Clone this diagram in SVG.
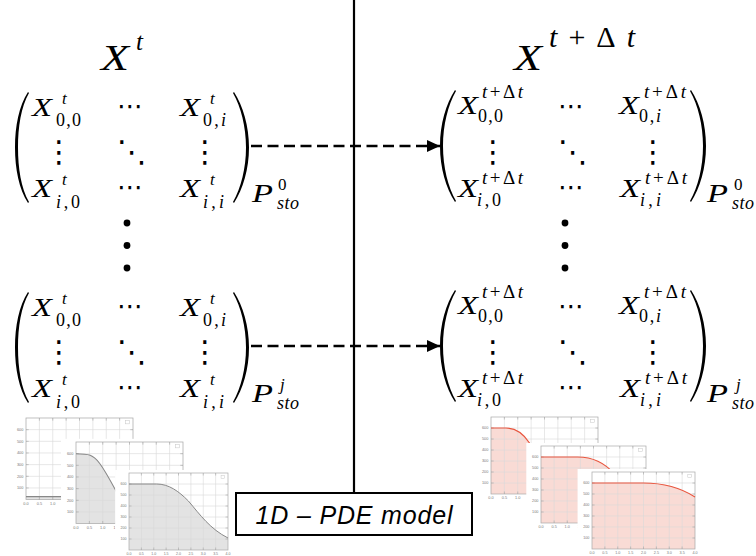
<svg xmlns="http://www.w3.org/2000/svg" xmlns:xlink="http://www.w3.org/1999/xlink" width="756" height="556" viewBox="0 0 756 556">
<style>
.m{font-family:"Liberation Serif","DejaVu Serif",serif;font-style:italic;fill:#000}
.up{font-style:normal}
.b{font-size:25px}
.s{font-size:17px}
.ss{font-size:18px}
.sd{font-size:19px}
.hd{font-family:"DejaVu Sans",sans-serif;font-size:26px;fill:#000}
.vd{font-family:"DejaVu Sans",sans-serif;font-size:30px;fill:#000}
.par{fill:#000}
.grid{stroke:#d9d9d9;stroke-width:0.6;fill:none}
.frame{stroke:#aaa;stroke-width:0.7;fill:none}
.tick{stroke:#999;stroke-width:0.5}
.tl{font-family:"Liberation Sans",sans-serif;font-size:3.6px;fill:#777}
.gfill{fill:#e3e3e3}
.gline{fill:none;stroke:#888;stroke-width:1}
.rfill{fill:#f9dbd5}
.rline{fill:none;stroke:#e8553e;stroke-width:1.1}
.dash{stroke:#000;stroke-width:2.4;stroke-dasharray:11 5.5;fill:none}
</style>
<defs>
<marker id="ah" markerUnits="userSpaceOnUse" markerWidth="14" markerHeight="13" refX="13" refY="6" orient="auto">
<path d="M0,0 L13,6 L0,12 Z" fill="#000"/>
</marker>
<g id="pbg"><rect x="-14" y="-3" width="118" height="88" fill="#fff"/></g>
<g id="pgrid">
<path class="grid" d="M12.5,0V77M25,0V77M37.5,0V77M50,0V77M62.5,0V77M75,0V77M87.5,0V77M0,11H100M0,22H100M0,33H100M0,44H100M0,55H100M0,66H100"/>
<rect class="frame" x="0" y="0" width="100" height="77"/>
<path class="tick" d="M12.5,0v2.5M25,0v2.5M37.5,0v2.5M50,0v2.5M62.5,0v2.5M75,0v2.5M87.5,0v2.5M12.5,77v-2.5M25,77v-2.5M37.5,77v-2.5M50,77v-2.5M62.5,77v-2.5M75,77v-2.5M87.5,77v-2.5M0,11h2.5M0,22h2.5M0,33h2.5M0,44h2.5M0,55h2.5M0,66h2.5M100,11h-2.5M100,22h-2.5M100,33h-2.5M100,44h-2.5M100,55h-2.5M100,66h-2.5"/>
<rect x="93" y="2.5" width="3.5" height="3" fill="#fff" stroke="#c8c8c8" stroke-width="0.5"/>
<g class="tl" text-anchor="end">
<text x="-2.5" y="12.3">600</text><text x="-2.5" y="23.3">500</text><text x="-2.5" y="34.3">400</text><text x="-2.5" y="45.3">300</text><text x="-2.5" y="56.3">200</text><text x="-2.5" y="67.3">100</text>
</g>
<g class="tl" text-anchor="middle">
<text x="0" y="82">0.0</text><text x="12.5" y="82">0.5</text><text x="25" y="82">1.0</text><text x="37.5" y="82">1.5</text><text x="50" y="82">2.0</text><text x="62.5" y="82">2.5</text><text x="75" y="82">3.0</text><text x="87.5" y="82">3.5</text><text x="100" y="82">4.0</text>
</g>
</g>
</defs>

<rect width="756" height="556" fill="#fff"/>

<g id="divider"><line x1="354" y1="0" x2="354" y2="493" stroke="#000" stroke-width="2.2"/></g>

<g id="title-t">
<text class="m" x="101" y="70" font-size="36" textLength="28" lengthAdjust="spacingAndGlyphs">X</text>
<text class="m" x="136" y="50" font-size="25">t</text>
</g>
<g id="title-tdt">
<text class="m" x="514" y="70" font-size="36" textLength="28" lengthAdjust="spacingAndGlyphs">X</text>
<text class="m" x="549" y="47" font-size="30" textLength="86">t<tspan class="up">+Δ</tspan>t</text>
</g>

<g id="matrix-t-0">
<path class="par" d="M28,92 C19,106 15,126 15,147.5 C15,169 19,189 28,203 L29,202 C21,188 18,168 18,147.5 C18,127 21,107 29,93 Z"/>
<path class="par" d="M234,92 C243,106 249,126 249,147.5 C249,169 243,189 234,203 L233,202 C241,188 246,168 246,147.5 C246,127 241,107 233,93 Z"/>
<text class="m b" x="32" y="116" textLength="20" lengthAdjust="spacingAndGlyphs">X</text>
<text class="m s" x="62" y="104">t</text>
<text class="m ss" x="56" y="126" textLength="25"><tspan class="up">0,0</tspan></text>
<text class="hd" x="130" y="114.5" text-anchor="middle">⋯</text>
<text class="m b" x="180" y="116" textLength="20" lengthAdjust="spacingAndGlyphs">X</text>
<text class="m s" x="210" y="104">t</text>
<text class="m ss" x="203" y="126" textLength="23"><tspan class="up">0,</tspan>i</text>
<text class="vd" x="59" y="162" text-anchor="middle">⋮</text>
<text class="vd" x="132" y="162" text-anchor="middle">⋱</text>
<text class="vd" x="205" y="162" text-anchor="middle">⋮</text>
<text class="m b" x="32" y="197" textLength="20" lengthAdjust="spacingAndGlyphs">X</text>
<text class="m s" x="62" y="185">t</text>
<text class="m ss" x="56" y="208" textLength="24">i<tspan class="up">,0</tspan></text>
<text class="hd" x="130" y="196" text-anchor="middle">⋯</text>
<text class="m b" x="180" y="197" textLength="20" lengthAdjust="spacingAndGlyphs">X</text>
<text class="m s" x="210" y="185">t</text>
<text class="m ss" x="203" y="208" textLength="21">i<tspan class="up">,</tspan>i</text>
<text class="m b" x="252" y="202" textLength="21" lengthAdjust="spacingAndGlyphs">P</text>
<text class="m s up" x="278" y="190">0</text>
<text class="m ss" x="277" y="209" textLength="22">sto</text>
</g>

<g id="matrix-t-j" transform="translate(0,200)">
<path class="par" d="M28,92 C19,106 15,126 15,147.5 C15,169 19,189 28,203 L29,202 C21,188 18,168 18,147.5 C18,127 21,107 29,93 Z"/>
<path class="par" d="M234,92 C243,106 249,126 249,147.5 C249,169 243,189 234,203 L233,202 C241,188 246,168 246,147.5 C246,127 241,107 233,93 Z"/>
<text class="m b" x="32" y="116" textLength="20" lengthAdjust="spacingAndGlyphs">X</text>
<text class="m s" x="62" y="104">t</text>
<text class="m ss" x="56" y="126" textLength="25"><tspan class="up">0,0</tspan></text>
<text class="hd" x="130" y="114.5" text-anchor="middle">⋯</text>
<text class="m b" x="180" y="116" textLength="20" lengthAdjust="spacingAndGlyphs">X</text>
<text class="m s" x="210" y="104">t</text>
<text class="m ss" x="203" y="126" textLength="23"><tspan class="up">0,</tspan>i</text>
<text class="vd" x="59" y="162" text-anchor="middle">⋮</text>
<text class="vd" x="132" y="162" text-anchor="middle">⋱</text>
<text class="vd" x="205" y="162" text-anchor="middle">⋮</text>
<text class="m b" x="32" y="197" textLength="20" lengthAdjust="spacingAndGlyphs">X</text>
<text class="m s" x="62" y="185">t</text>
<text class="m ss" x="56" y="208" textLength="24">i<tspan class="up">,0</tspan></text>
<text class="hd" x="130" y="196" text-anchor="middle">⋯</text>
<text class="m b" x="180" y="197" textLength="20" lengthAdjust="spacingAndGlyphs">X</text>
<text class="m s" x="210" y="185">t</text>
<text class="m ss" x="203" y="208" textLength="21">i<tspan class="up">,</tspan>i</text>
<text class="m b" x="252" y="202" textLength="21" lengthAdjust="spacingAndGlyphs">P</text>
<text class="m s" x="280" y="190">j</text>
<text class="m ss" x="277" y="209" textLength="22">sto</text>
</g>

<g id="matrix-tdt-0">
<path class="par" d="M455,90 C446,104 440,124 440,146 C440,168 446,188 455,202 L456,201 C448,187 443,167 443,146 C443,125 448,105 456,91 Z"/>
<path class="par" d="M691,90 C700,104 706,124 706,146 C706,168 700,188 691,202 L690,201 C698,187 703,167 703,146 C703,125 698,105 690,91 Z"/>
<text class="m b" x="458" y="114" textLength="20" lengthAdjust="spacingAndGlyphs">X</text>
<text class="m sd" x="482" y="98" textLength="41">t<tspan class="up">+Δ</tspan>t</text>
<text class="m ss" x="478" y="122" textLength="25"><tspan class="up">0,0</tspan></text>
<text class="hd" x="571" y="115" text-anchor="middle">⋯</text>
<text class="m b" x="619" y="114" textLength="20" lengthAdjust="spacingAndGlyphs">X</text>
<text class="m sd" x="644" y="98" textLength="42">t<tspan class="up">+Δ</tspan>t</text>
<text class="m ss" x="639" y="122" textLength="22"><tspan class="up">0,</tspan>i</text>
<text class="vd" x="493" y="162" text-anchor="middle">⋮</text>
<text class="vd" x="573" y="162" text-anchor="middle">⋱</text>
<text class="vd" x="653" y="162" text-anchor="middle">⋮</text>
<text class="m b" x="458" y="197" textLength="20" lengthAdjust="spacingAndGlyphs">X</text>
<text class="m sd" x="482" y="184" textLength="41">t<tspan class="up">+Δ</tspan>t</text>
<text class="m ss" x="477" y="206" textLength="24">i<tspan class="up">,0</tspan></text>
<text class="hd" x="571" y="196" text-anchor="middle">⋯</text>
<text class="m b" x="620" y="197" textLength="20" lengthAdjust="spacingAndGlyphs">X</text>
<text class="m sd" x="645" y="184" textLength="42">t<tspan class="up">+Δ</tspan>t</text>
<text class="m ss" x="640" y="206" textLength="21">i<tspan class="up">,</tspan>i</text>
<text class="m b" x="707" y="202" textLength="21" lengthAdjust="spacingAndGlyphs">P</text>
<text class="m s up" x="734" y="190">0</text>
<text class="m ss" x="732" y="209" textLength="22">sto</text>
</g>

<g id="matrix-tdt-j" transform="translate(0,200)">
<path class="par" d="M455,90 C446,104 440,124 440,146 C440,168 446,188 455,202 L456,201 C448,187 443,167 443,146 C443,125 448,105 456,91 Z"/>
<path class="par" d="M691,90 C700,104 706,124 706,146 C706,168 700,188 691,202 L690,201 C698,187 703,167 703,146 C703,125 698,105 690,91 Z"/>
<text class="m b" x="458" y="114" textLength="20" lengthAdjust="spacingAndGlyphs">X</text>
<text class="m sd" x="482" y="98" textLength="41">t<tspan class="up">+Δ</tspan>t</text>
<text class="m ss" x="478" y="122" textLength="25"><tspan class="up">0,0</tspan></text>
<text class="hd" x="571" y="115" text-anchor="middle">⋯</text>
<text class="m b" x="619" y="114" textLength="20" lengthAdjust="spacingAndGlyphs">X</text>
<text class="m sd" x="644" y="98" textLength="42">t<tspan class="up">+Δ</tspan>t</text>
<text class="m ss" x="639" y="122" textLength="22"><tspan class="up">0,</tspan>i</text>
<text class="vd" x="493" y="162" text-anchor="middle">⋮</text>
<text class="vd" x="573" y="162" text-anchor="middle">⋱</text>
<text class="vd" x="653" y="162" text-anchor="middle">⋮</text>
<text class="m b" x="458" y="197" textLength="20" lengthAdjust="spacingAndGlyphs">X</text>
<text class="m sd" x="482" y="184" textLength="41">t<tspan class="up">+Δ</tspan>t</text>
<text class="m ss" x="477" y="206" textLength="24">i<tspan class="up">,0</tspan></text>
<text class="hd" x="571" y="196" text-anchor="middle">⋯</text>
<text class="m b" x="620" y="197" textLength="20" lengthAdjust="spacingAndGlyphs">X</text>
<text class="m sd" x="645" y="184" textLength="42">t<tspan class="up">+Δ</tspan>t</text>
<text class="m ss" x="640" y="206" textLength="21">i<tspan class="up">,</tspan>i</text>
<text class="m b" x="707" y="202" textLength="21" lengthAdjust="spacingAndGlyphs">P</text>
<text class="m s" x="736" y="190">j</text>
<text class="m ss" x="732" y="209" textLength="22">sto</text>
</g>

<g id="ellipsis-left"><circle cx="127" cy="223" r="3.4"/><circle cx="127" cy="245.5" r="3.4"/><circle cx="127" cy="268" r="3.4"/></g>
<g id="ellipsis-right"><circle cx="565" cy="223" r="3.4"/><circle cx="565" cy="245.5" r="3.4"/><circle cx="565" cy="268" r="3.4"/></g>

<g id="connectors">
<line class="dash" x1="251" y1="146" x2="440" y2="146" marker-end="url(#ah)"/>
<line class="dash" x1="251" y1="346" x2="440" y2="346" marker-end="url(#ah)"/>
</g>

<g id="plots-left">
<g transform="translate(26,418) scale(1.07,1.06)">
<use href="#pbg"/>
<path class="gfill" d="M0,74.2 H100 V77 H0 Z"/>
<use href="#pgrid"/>
<path class="gline" d="M0,74.2 H100"/>
</g>
<g transform="translate(76,442) scale(1.07,1.06)">
<use href="#pbg"/>
<path class="gfill" d="M0,11 C12,11 16,12 22,20 C28,28 34,40 40,51 C45,60 50,70 58,74 L100,75 V77 H0 Z"/>
<use href="#pgrid"/>
<path class="gline" d="M0,11 C12,11 16,12 22,20 C28,28 34,40 40,51 C45,60 50,70 58,74 L100,75"/>
</g>
<g transform="translate(129,473) scale(0.99,1)">
<use href="#pbg"/>
<path class="gfill" d="M0,11 L28,11 C40,11 50,18 60,28 C72,42 82,56 100,65 V77 H0 Z"/>
<use href="#pgrid"/>
<path class="gline" d="M0,11 L28,11 C40,11 50,18 60,28 C72,42 82,56 100,65"/>
</g>
</g>

<g id="plots-right">
<g transform="translate(491,417) scale(1.07,1)">
<use href="#pbg"/>
<path class="rfill" d="M0,11 L14,11 C22,11 30,16 36,26 L50,50 C56,62 62,70 72,74 L100,76 V77 H0 Z"/>
<use href="#pgrid"/>
<path class="rline" d="M0,11 L14,11 C22,11 30,16 36,26 L50,50 C56,62 62,70 72,74 L100,76"/>
</g>
<g transform="translate(541,446) scale(1.05,1)">
<use href="#pbg"/>
<path class="rfill" d="M0,11 L35,11 C48,11 60,16 70,28 L90,55 L100,66 V77 H0 Z"/>
<use href="#pgrid"/>
<path class="rline" d="M0,11 L35,11 C48,11 60,16 70,28 L90,55 L100,66"/>
</g>
<g transform="translate(592,472) scale(1.03,1)">
<use href="#pbg"/>
<path class="rfill" d="M0,11 L50,11 C68,11 85,15 100,25 V77 H0 Z"/>
<use href="#pgrid"/>
<path class="rline" d="M0,11 L50,11 C68,11 85,15 100,25"/>
</g>
</g>

<g id="model-box">
<rect x="236" y="493" width="236" height="42" fill="#fff" stroke="#000" stroke-width="2"/>
<text x="354" y="524" text-anchor="middle" font-family="'Liberation Sans',sans-serif" font-style="italic" font-size="25" textLength="197">1D – PDE model</text>
</g>
</svg>
